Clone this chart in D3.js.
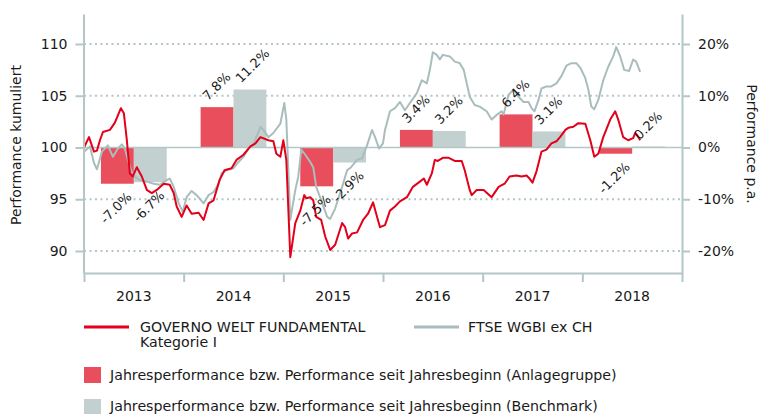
<!DOCTYPE html>
<html>
<head>
<meta charset="utf-8">
<script src="https://cdn.jsdelivr.net/npm/d3@7"></script>
<style>
  body { margin: 0; background: #fff; }
  svg { font-family: "DejaVu Sans", sans-serif; fill: #1a1a1a; }
  .axis path, .axis line { stroke: #b4c6c6; stroke-width: 2; }
  .axis text { fill: #1a1a1a; }
</style>
</head>
<body>
<div class="chart"></div>
<script>
// yearly performance in %
const years = [2013, 2014, 2015, 2016, 2017, 2018];
const fundYearly = [-7.0, 7.8, -7.5, 3.4, 6.4, -1.2];
const benchYearly = [-6.7, 11.2, -2.9, 3.2, 3.1, 0.2];

// cumulative performance (index), time = years since start of 2013
const govT = [0.00,0.05,0.10,0.13,0.16,0.19,0.26,0.31,0.37,0.40,0.43,0.46,0.49,0.53,0.58,0.63,0.68,0.73,0.80,0.86,0.90,0.93,0.98,
  1.03,1.08,1.15,1.20,1.25,1.30,1.36,1.41,1.48,1.53,1.60,1.67,1.72,1.77,1.85,1.90,1.93,1.97,2.00,2.03,2.07,2.12,2.17,2.21,2.23,
  2.27,2.30,2.33,2.38,2.42,2.47,2.52,2.59,2.62,2.65,2.69,2.74,2.80,2.85,2.90,2.94,2.97,3.02,3.07,3.12,3.17,3.24,3.30,3.37,3.41,
  3.44,3.49,3.52,3.55,3.60,3.66,3.72,3.79,3.82,3.87,3.89,3.94,4.01,4.09,4.16,4.22,4.27,4.34,4.39,4.44,4.47,4.50,4.54,4.59,4.64,
  4.69,4.74,4.78,4.83,4.86,4.91,4.96,5.03,5.08,5.12,5.16,5.21,5.28,5.33,5.36,5.41,5.46,5.51,5.53,5.55,5.58];
const govV = [100.0,101.0,99.6,99.7,100.7,101.5,101.7,102.4,103.8,103.3,100.7,97.5,97.2,98.1,97.2,95.9,95.6,95.9,96.5,96.4,95.6,94.3,93.3,
  94.4,93.6,93.7,93.0,94.6,94.9,96.85,97.8,98.0,98.8,99.3,100.1,100.4,101.0,100.7,100.6,99.4,99.1,100.7,98.8,89.4,92.7,93.9,95.4,95.1,
  95.2,94.9,93.3,93.0,91.4,90.1,90.6,92.7,92.3,91.2,91.7,91.8,93.0,93.6,94.7,93.3,92.3,92.5,93.9,94.3,94.8,95.2,96.2,96.7,97.0,
  96.4,97.5,98.8,98.7,99.0,99.0,98.7,98.7,97.8,95.9,95.4,95.9,95.9,95.2,96.2,96.5,97.2,97.3,97.2,97.3,97.0,96.6,97.7,99.6,99.8,
  100.4,100.6,101.05,101.7,101.9,102.0,102.35,102.3,100.7,99.1,99.4,101.0,102.7,103.5,102.7,101.0,100.7,100.9,101.4,101.2,100.7];

const ftseT = [0.00,0.06,0.10,0.13,0.18,0.24,0.29,0.34,0.38,0.41,0.44,0.49,0.56,0.63,0.70,0.76,0.83,0.86,0.90,0.95,0.99,
  1.03,1.08,1.13,1.20,1.25,1.30,1.35,1.38,1.43,1.50,1.55,1.60,1.65,1.70,1.77,1.80,1.85,1.90,1.97,2.01,2.03,2.07,2.12,2.15,2.18,
  2.22,2.27,2.30,2.33,2.38,2.44,2.47,2.52,2.59,2.64,2.68,2.74,2.79,2.84,2.89,2.92,2.96,3.00,3.02,3.07,3.12,3.17,3.22,3.27,3.34,
  3.39,3.44,3.47,3.50,3.54,3.57,3.60,3.67,3.72,3.77,3.81,3.84,3.87,3.92,3.97,4.04,4.09,4.14,4.19,4.21,4.26,4.31,4.36,4.41,4.46,
  4.49,4.52,4.56,4.59,4.64,4.69,4.74,4.79,4.84,4.89,4.94,4.98,5.03,5.06,5.09,5.12,5.16,5.21,5.26,5.31,5.34,5.38,5.42,5.47,5.51,
  5.54,5.58];
const ftseV = [99.6,100.1,98.5,97.9,99.6,100.2,99.1,99.9,100.3,99.9,98.8,97.3,96.85,96.7,96.5,96.4,96.85,97.0,96.2,94.6,93.8,
  95.2,95.8,95.4,94.6,95.4,95.7,96.5,97.5,97.8,98.0,98.6,99.1,99.9,100.3,102.0,101.7,101.0,101.4,102.3,104.3,102.7,93.0,95.9,97.2,99.8,
  99.3,98.6,98.1,96.2,94.9,93.3,93.1,94.1,96.2,97.8,98.1,98.8,98.95,100.2,101.7,101.0,99.9,100.4,101.7,103.5,103.8,104.4,103.6,104.3,105.25,
  106.5,106.2,107.5,109.2,108.95,108.5,108.95,108.8,108.3,108.15,107.5,106.2,104.9,104.1,103.95,103.5,102.7,103.15,103.5,103.2,105.1,105.6,104.9,104.4,104.4,
  103.8,103.5,104.6,105.7,105.9,105.9,106.2,106.9,107.9,108.15,108.15,107.7,106.7,105.6,103.95,103.7,104.6,106.5,107.8,108.8,109.7,108.8,107.5,107.4,108.5,
  108.3,107.3];

const leftTicks = [90, 95, 100, 105, 110];
const rightTicks = [-20, -10, 0, 10, 20];
const fundName = ["GOVERNO WELT FUNDAMENTAL", "Kategorie I"];
const benchName = "FTSE WGBI ex CH";
const barLegend = ["Jahresperformance bzw. Performance seit Jahresbeginn (Anlagegruppe)",
                   "Jahresperformance bzw. Performance seit Jahresbeginn (Benchmark)"];

const outWidth = 765, outHeight = 414;
const plot = {left: 84, right: 682, top: 14, bottom: 273};
const redLine = "#e2001a", greyLine = "#a9bdbd", redBar = "#e94e5d", greyBar = "#c2d0d0";
const font = '"DejaVu Sans", sans-serif';

const svg = d3.select(".chart").append("svg")
  .attr("width", outWidth)
  .attr("height", outHeight);

const x = d3.scaleLinear().domain([2013, 2019]).range([plot.left, plot.right]);
const yBase = d3.scaleLinear().domain([90, 110]).range([251, 44]);
const yL = d3.scaleLinear().domain([yBase.invert(plot.bottom), yBase.invert(plot.top)]).range([plot.bottom, plot.top]);
const yR = d3.scaleLinear().domain([(yL.domain()[0] - 100) * 2, (yL.domain()[1] - 100) * 2]).range([plot.bottom, plot.top]);

const band = d3.scaleBand().domain(years).range([plot.left, plot.right]).paddingInner(0.34).paddingOuter(0.17);
const sub = d3.scaleBand().domain(["fund", "bench"]).range([0, band.bandwidth()]);

// grid
svg.append("g").selectAll("line")
  .data(leftTicks.filter(d => d !== 100))
  .join("line")
  .attr("x1", plot.left).attr("x2", plot.right)
  .attr("y1", d => yL(d)).attr("y2", d => yL(d))
  .attr("stroke", "#b4c6c6").attr("stroke-width", 2).attr("stroke-dasharray", "2,3.5");

// bars
const barData = [];
years.forEach((yr, i) => {
  barData.push({year: yr, key: "fund", v: fundYearly[i]});
  barData.push({year: yr, key: "bench", v: benchYearly[i]});
});
svg.append("g").selectAll("rect")
  .data(barData)
  .join("rect")
  .attr("x", d => band(d.year) + sub(d.key))
  .attr("width", sub.bandwidth())
  .attr("y", d => yR(Math.max(0, d.v)))
  .attr("height", d => Math.abs(yR(d.v) - yR(0)))
  .attr("fill", d => d.key === "fund" ? redBar : greyBar);

// 100 line
svg.append("line")
  .attr("x1", plot.left).attr("x2", plot.right)
  .attr("y1", yL(100)).attr("y2", yL(100))
  .attr("stroke", "#b4c6c6").attr("stroke-width", 1.5);

// lines
const line = d3.line().x(d => x(2013 + d[0])).y(d => yL(d[1]));
svg.append("path")
  .datum(d3.zip(ftseT, ftseV))
  .attr("fill", "none").attr("stroke", greyLine).attr("stroke-width", 2)
  .attr("stroke-linejoin", "round")
  .attr("d", line);
svg.append("path")
  .datum(d3.zip(govT, govV))
  .attr("fill", "none").attr("stroke", redLine).attr("stroke-width", 2)
  .attr("stroke-linejoin", "round")
  .attr("d", line);

// bar labels
svg.append("g").selectAll("text")
  .data(barData)
  .join("text")
  .attr("font-size", 13)
  .attr("text-anchor", d => d.v >= 0 ? "start" : "end")
  .attr("transform", d => {
    const cx = band(d.year) + sub(d.key) + sub.bandwidth() / 2;
    return d.v >= 0
      ? `translate(${cx - 9},${yR(d.v) - 6}) rotate(-45)`
      : `translate(${cx + 15},${yR(d.v) + 14}) rotate(-45)`;
  })
  .text(d => d.v.toFixed(1) + "%");

// axes
svg.append("g")
  .attr("class", "axis")
  .attr("transform", `translate(${plot.left - 0.5},0)`)
  .call(d3.axisLeft(yL).tickValues(leftTicks).tickSize(8).tickSizeOuter(0).tickPadding(8))
  .attr("font-size", 14).attr("font-family", font);

svg.append("g")
  .attr("class", "axis")
  .attr("transform", `translate(${plot.right},0)`)
  .call(d3.axisRight(yR).tickValues(rightTicks).tickSize(8).tickSizeOuter(0).tickPadding(8)
    .tickFormat(d => d + "%"))
  .attr("font-size", 14).attr("font-family", font);

svg.append("g")
  .attr("class", "axis")
  .attr("transform", `translate(0,${plot.bottom})`)
  .call(d3.axisBottom(x).tickValues(d3.range(2013, 2020)).tickSize(9).tickSizeOuter(0).tickFormat(""));

svg.append("g").selectAll("text")
  .data(years)
  .join("text")
  .attr("x", d => x(d + 0.5))
  .attr("y", 296)
  .attr("dy", "0.35em")
  .attr("text-anchor", "middle")
  .attr("font-size", 14)
  .text(d => d);

// axis titles
svg.append("text")
  .attr("transform", `translate(16,145) rotate(-90)`)
  .attr("text-anchor", "middle").attr("dy", "0.35em")
  .attr("font-size", 14)
  .text("Performance kumuliert");
svg.append("text")
  .attr("transform", `translate(752,144) rotate(90)`)
  .attr("text-anchor", "middle").attr("dy", "0.35em")
  .attr("font-size", 14)
  .text("Performance p.a.");

// legend
const lg = svg.append("g").attr("font-size", 14.2);
lg.append("line").attr("x1", 84).attr("x2", 129).attr("y1", 327).attr("y2", 327)
  .attr("stroke", redLine).attr("stroke-width", 3);
lg.append("text").attr("x", 140).attr("y", 327).attr("dy", "0.35em").text(fundName[0]);
lg.append("text").attr("x", 140).attr("y", 342).attr("dy", "0.35em").text(fundName[1]);
lg.append("line").attr("x1", 414).attr("x2", 459).attr("y1", 327).attr("y2", 327)
  .attr("stroke", greyLine).attr("stroke-width", 3);
lg.append("text").attr("x", 468).attr("y", 327).attr("dy", "0.35em").text(benchName);
lg.append("rect").attr("x", 84).attr("y", 367).attr("width", 17).attr("height", 16).attr("fill", redBar);
lg.append("text").attr("x", 110).attr("y", 375).attr("dy", "0.35em").text(barLegend[0]);
lg.append("rect").attr("x", 84).attr("y", 399).attr("width", 17).attr("height", 16).attr("fill", greyBar);
lg.append("text").attr("x", 110).attr("y", 406).attr("dy", "0.35em").text(barLegend[1]);
</script>
</body>
</html>
